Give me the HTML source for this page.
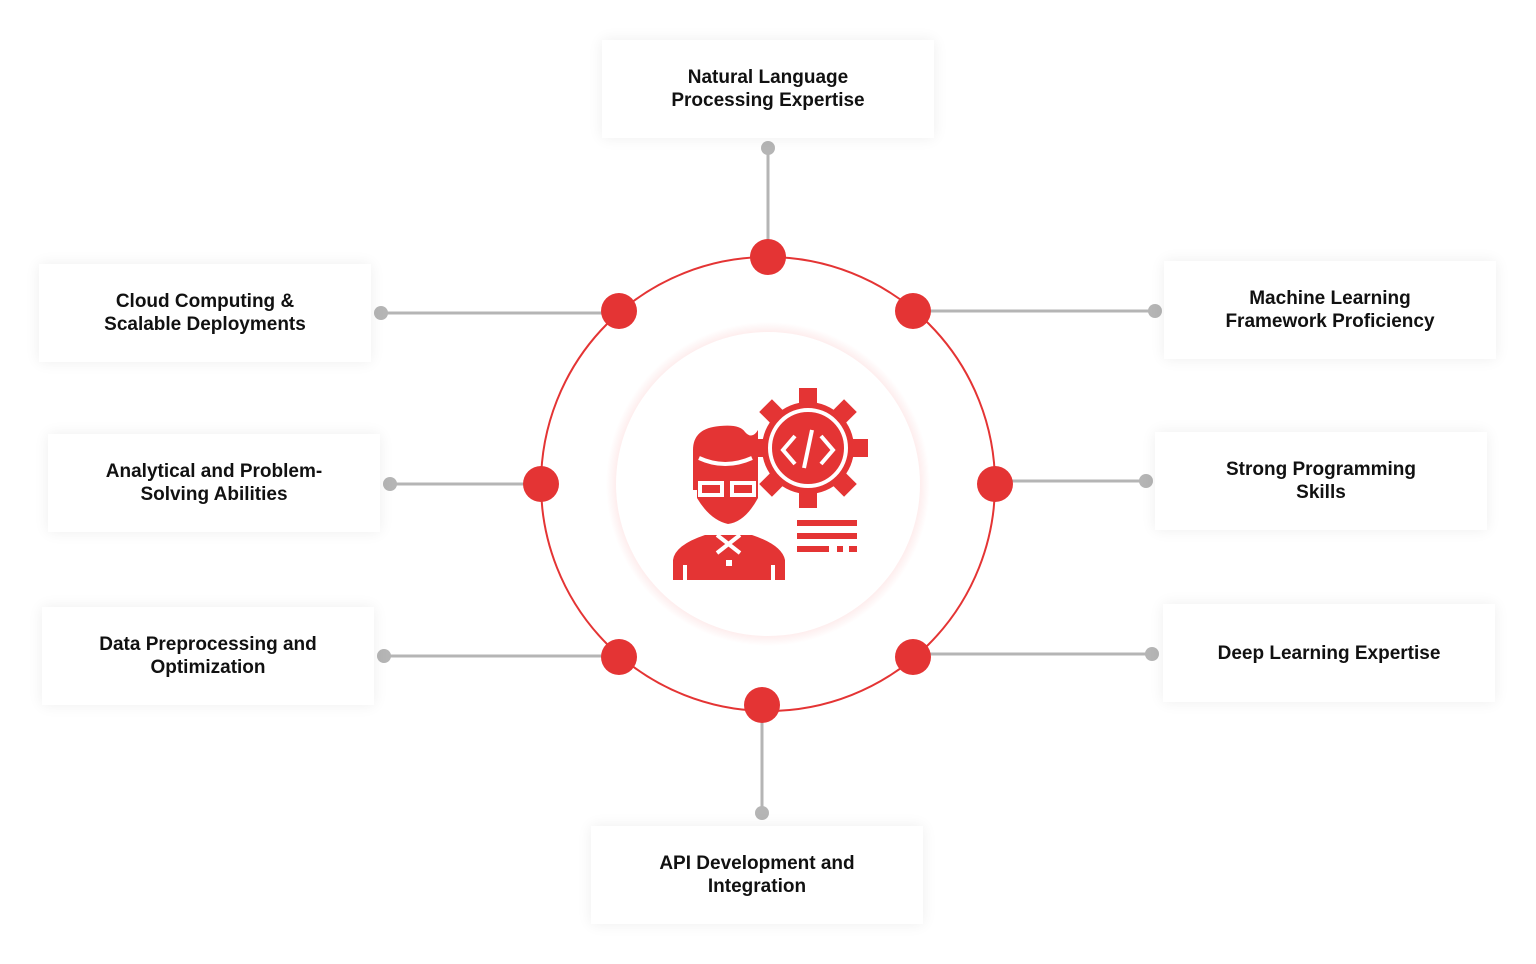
<!DOCTYPE html>
<html><head><style>
body{margin:0;width:1536px;height:964px;background:#fff;position:relative;overflow:hidden;font-family:"Liberation Sans",sans-serif}
.b{position:absolute;width:332px;height:98px;background:#fff;box-shadow:0 0 14px rgba(0,0,0,0.07);display:flex;align-items:center;justify-content:center;text-align:center;font-weight:bold;font-size:19px;line-height:23px;color:#111}
svg{position:absolute;left:0;top:0}
</style></head><body>
<svg width="1536" height="964">
<defs><radialGradient id="g" cx="50%" cy="50%" r="50%"><stop offset="90%" stop-color="#fde3e3"/><stop offset="100%" stop-color="#fff"/></radialGradient></defs>
<g stroke="#b5b5b5" stroke-width="3" fill="none">
<line x1="768" y1="148" x2="768" y2="257"/><line x1="381" y1="313" x2="619" y2="313"/><line x1="913" y1="311" x2="1155" y2="311"/>
<line x1="390" y1="484" x2="541" y2="484"/><line x1="995" y1="481" x2="1146" y2="481"/>
<line x1="384" y1="656" x2="619" y2="656"/><line x1="913" y1="654" x2="1152" y2="654"/><line x1="762" y1="705" x2="762" y2="813"/>
</g>
<g fill="#b5b5b5"><circle cx="768" cy="148" r="7"/><circle cx="381" cy="313" r="7"/><circle cx="1155" cy="311" r="7"/><circle cx="390" cy="484" r="7"/><circle cx="1146" cy="481" r="7"/><circle cx="384" cy="656" r="7"/><circle cx="1152" cy="654" r="7"/><circle cx="762" cy="813" r="7"/></g>
<circle cx="768" cy="484" r="227" fill="none" stroke="#e43434" stroke-width="2"/>
<circle cx="768" cy="484" r="162" fill="url(#g)"/>
<circle cx="768" cy="484" r="152" fill="#fff"/>
<g fill="#e43434"><circle cx="768" cy="257" r="18"/><circle cx="619" cy="311" r="18"/><circle cx="913" cy="311" r="18"/><circle cx="541" cy="484" r="18"/><circle cx="995" cy="484" r="18"/><circle cx="619" cy="657" r="18"/><circle cx="913" cy="657" r="18"/><circle cx="762" cy="705" r="18"/></g>
<g fill="#e43434">
<circle cx="808" cy="448" r="46"/>
<g transform="translate(808 448)"><rect x="-9" y="-60" width="18" height="18"/><rect x="-9" y="42" width="18" height="18"/><rect x="-60" y="-9" width="18" height="18"/><rect x="42" y="-9" width="18" height="18"/>
<rect x="-9" y="-60" width="18" height="18" transform="rotate(45)"/><rect x="-9" y="-60" width="18" height="18" transform="rotate(135)"/><rect x="-9" y="-60" width="18" height="18" transform="rotate(225)"/><rect x="-9" y="-60" width="18" height="18" transform="rotate(315)"/></g>
<circle cx="808" cy="448" r="38" fill="none" stroke="#fff" stroke-width="4"/>
<path d="M693 450 Q693 428 720 426 Q740 424 745 432 Q752 440 758 430 L758 490 L693 490Z"/>
<path d="M697 462 L758 462 L758 498 Q745 522 728 524 Q710 520 697 498Z"/>
<path d="M673 580 L673 560 Q675 545 705 535 L752 535 Q782 545 785 560 L785 580Z"/>
<rect x="797" y="520" width="60" height="6"/><rect x="797" y="533" width="60" height="6"/><rect x="797" y="546" width="32" height="6"/><rect x="837" y="546" width="6" height="6"/><rect x="849" y="546" width="8" height="6"/>
</g>
<g fill="none" stroke="#fff" stroke-width="4"><path d="M795 436 L783 450 L795 464"/><path d="M821 436 L833 450 L821 464"/><path d="M812 430 L804 468"/>
<rect x="700" y="483" width="22" height="12"/><rect x="732" y="483" width="22" height="12"/><path d="M717 535 L740 553 M740 535 L717 553"/><path d="M685 565 L685 580 M773 565 L773 580"/><path d="M699 458 Q725 470 752 458"/></g>
<rect x="726" y="560" width="6" height="6" fill="#fff"/>
</svg>
<div class="b" style="left:602px;top:40px">Natural Language<br>Processing Expertise</div>
<div class="b" style="left:39px;top:264px">Cloud Computing &amp;<br>Scalable Deployments</div>
<div class="b" style="left:48px;top:434px">Analytical and Problem-<br>Solving Abilities</div>
<div class="b" style="left:42px;top:607px">Data Preprocessing and<br>Optimization</div>
<div class="b" style="left:1164px;top:261px">Machine Learning<br>Framework Proficiency</div>
<div class="b" style="left:1155px;top:432px">Strong Programming<br>Skills</div>
<div class="b" style="left:1163px;top:604px">Deep Learning Expertise</div>
<div class="b" style="left:591px;top:826px">API Development and<br>Integration</div>
</body></html>
